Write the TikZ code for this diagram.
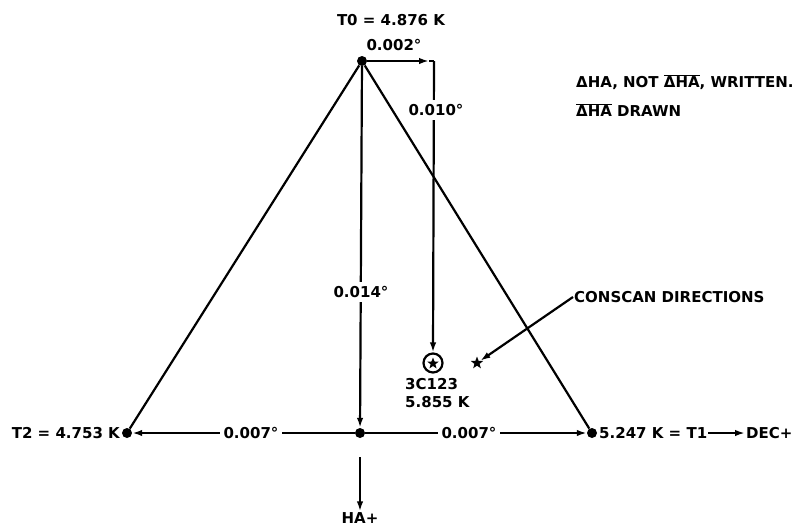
\documentclass[tikz,border=0pt]{standalone}
\usepackage{fontspec}
\setmainfont{DejaVu Sans}
\usetikzlibrary{arrows.meta,shapes.geometric}
\newcommand{\lblfont}{\fontsize{15}{17}\selectfont\bfseries}
\begin{document}
\begin{tikzpicture}[x=1pt,y=-1pt,
  font=\lblfont,
  ln/.style={line width=2.2pt},
  arr/.style={line width=2.2pt,-{Latex[length=10pt,width=6.5pt]}},
  dot/.style={circle,fill=black,inner sep=0pt,minimum size=10pt},
  lbl/.style={inner sep=1pt},
  gap/.style={fill=white,inner sep=4pt},
  starshape/.style={star,star points=5,star point ratio=2.4,fill=black,inner sep=0pt,minimum size=13pt}]
\useasboundingbox (0,0) rectangle (798,528);
% points
\node[dot] (T0) at (362,61) {};
\node[dot] (T2) at (127,433) {};
\node[dot] (C) at (360,433) {};
\node[dot] (T1) at (592,433) {};
\coordinate (corner) at (434,61);
\coordinate (cornerb) at (429,61);
\node[circle,draw,line width=2.2pt,minimum size=19pt,inner sep=0pt] (src) at (433,363) {};
\node[starshape,minimum size=12pt] (srcstar) at (433,363.5) {};
\node[starshape] (cstar) at (477,363) {};
% triangle sides
\draw[ln] (T0) -- (T2);
\draw[ln] (T0) -- (T1);
% arrows
\draw[arr] (T0) -- (C);
\draw[arr] (C) -- (T2);
\draw[arr] (C) -- (T1);
\draw[arr] (T0) -- (cornerb);
\draw[ln] (cornerb) -- (corner);
\draw[arr] (corner) -- (src.north);
% labels interrupting lines
\node[gap] (l014) at (361,292) {0.014°};
\node[gap] (l010) at (436,110) {0.010°};
\node[gap] (l007a) at (251,433) {0.007°};
\node[gap] (l007b) at (469,433) {0.007°};
% other labels
\node[lbl] (t0lab) at (391,20) {T0 = 4.876 K};
\node[lbl] (l002) at (394,45) {0.002°};
\node[lbl,anchor=east] (t2lab) at (121,433) {T2 = 4.753 K};
\node[lbl,anchor=west] (t1lab) at (598,433) {5.247 K = T1};
\node[lbl,anchor=west] (dec) at (745,433) {DEC+};
\draw[arr] (t1lab.east) -- (dec.west);
\coordinate (hastart) at (360,457);
\node[lbl] (ha) at (360,518) {HA+};
\draw[arr] (hastart) -- (ha.north);
\node[lbl,anchor=west] (srclab) at (404,384) {3C123};
\node[lbl,anchor=west] (srck) at (404,402) {5.855 K};
\node[lbl,anchor=west] (cons) at (573,297) {CONSCAN DIRECTIONS};
\draw[arr] (cons.west) -- (cstar);
\node[lbl,anchor=west] (note1) at (575,82) {ΔHA, NOT $\overline{\hbox{\lblfont ΔHA}}$, WRITTEN.};
\node[lbl,anchor=west] (note2) at (575,110) {$\overline{\hbox{\lblfont ΔHA}}$ DRAWN};
\end{tikzpicture}
\end{document}
